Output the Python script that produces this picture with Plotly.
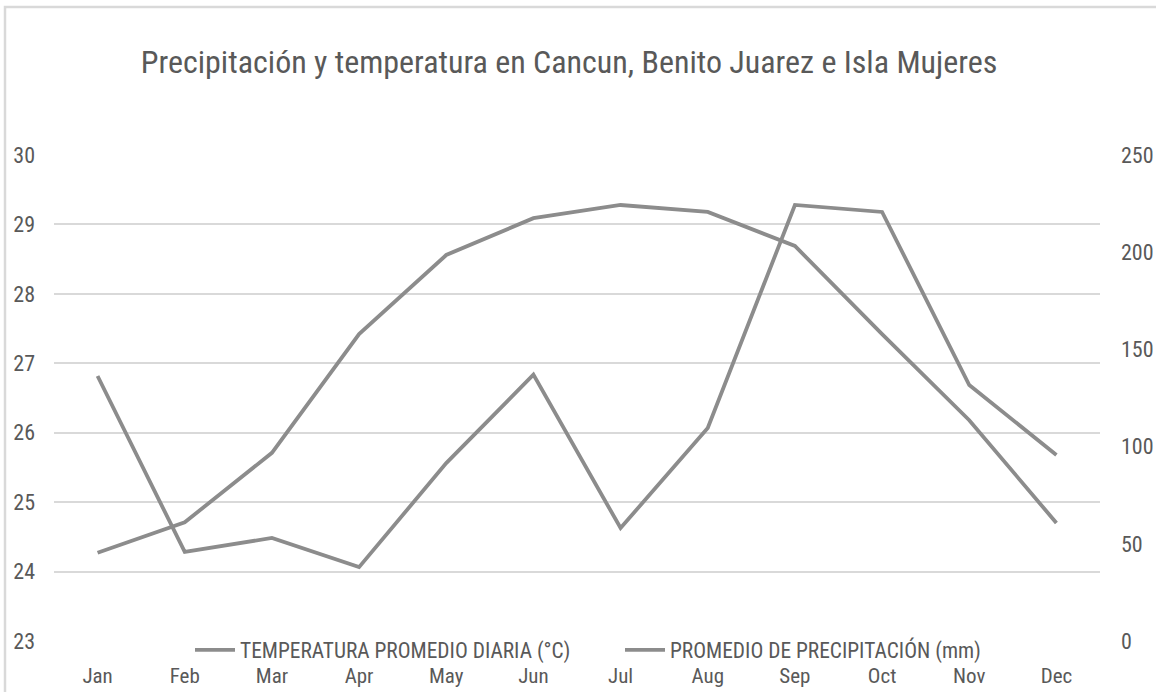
import plotly.graph_objects as go

months = ["Jan", "Feb", "Mar", "Apr", "May", "Jun", "Jul", "Aug", "Sep", "Oct", "Nov", "Dec"]
temperatura = [24.27, 24.71, 25.71, 27.42, 28.56, 29.09, 29.28, 29.18, 28.69, 27.42, 26.18, 24.70]
precipitacion = [136.3, 45.8, 53.0, 38.0, 91.5, 137.0, 58.1, 109.6, 224.3, 220.7, 131.7, 95.7]
left_ticks = [23, 24, 25, 26, 27, 28, 29, 30]
right_ticks = [0, 50, 100, 150, 200, 250]

FONT = "Liberation Sans Narrow, Roboto Condensed, Arial Narrow, sans-serif"
GRAY_TXT = "#595959"
LINE = "#8c8c8c"

W, H = 1156, 692
L, R, T, B = 54, 56, 155, 51
PW, PH = W - L - R, H - T - B

fig = go.Figure()
fig.add_trace(go.Scatter(x=months, y=temperatura, mode="lines",
                         name="TEMPERATURA PROMEDIO DIARIA (°C)",
                         line=dict(color=LINE, width=3.8), yaxis="y"))
fig.add_trace(go.Scatter(x=months, y=precipitacion, mode="lines",
                         name="PROMEDIO DE PRECIPITACIÓN (mm)",
                         line=dict(color=LINE, width=3.8), yaxis="y2"))

fig.update_layout(
    width=W, height=H,
    margin=dict(l=L, r=R, t=T, b=B, autoexpand=False),
    paper_bgcolor="white", plot_bgcolor="white",
    font=dict(family=FONT, size=21, color=GRAY_TXT),
    title=dict(text="Precipitación y temperatura en Cancun, Benito Juarez e Isla Mujeres",
               x=569 / W, xanchor="center", y=1 - 62 / H, yanchor="middle",
               font=dict(family=FONT, size=32, color=GRAY_TXT)),
    xaxis=dict(type="category", categoryorder="array", categoryarray=months,
               range=[-0.5, 11.5], automargin=False,
               showgrid=False, zeroline=False, showline=False, ticks="",
               ticklabelstandoff=20, tickfont=dict(size=21, color=GRAY_TXT)),
    yaxis=dict(range=[23, 30], tickvals=left_ticks, showgrid=True, gridcolor="#d9d9d9",
               gridwidth=1.5, zeroline=False, showline=False, ticks="", automargin=False,
               ticklabelstandoff=18, tickfont=dict(size=22, color=GRAY_TXT)),
    yaxis2=dict(range=[0, 250], tickvals=right_ticks, overlaying="y", side="right",
                showgrid=False, zeroline=False, showline=False, ticks="", automargin=False,
                ticklabelstandoff=20, tickfont=dict(size=22, color=GRAY_TXT)),
    legend=dict(orientation="h", xref="container", yref="container",
                x=190 / W, xanchor="left", y=1 - 650 / H, yanchor="middle",
                bgcolor="rgba(0,0,0,0)", font=dict(size=21.4, color=GRAY_TXT),
                entrywidth=375, itemwidth=40),
    showlegend=True,
    shapes=[dict(type="rect", xref="paper", yref="paper",
                 x0=(5 - L) / PW, x1=1.3, y0=-0.3, y1=(H - B - 7) / PH,
                 line=dict(color="#d9d9d9", width=2.5), layer="below")],
)

fig.write_html("out.html",
               config={"displayModeBar": False},
               post_script="document.body.style.margin='0';document.body.style.overflow='hidden';")
